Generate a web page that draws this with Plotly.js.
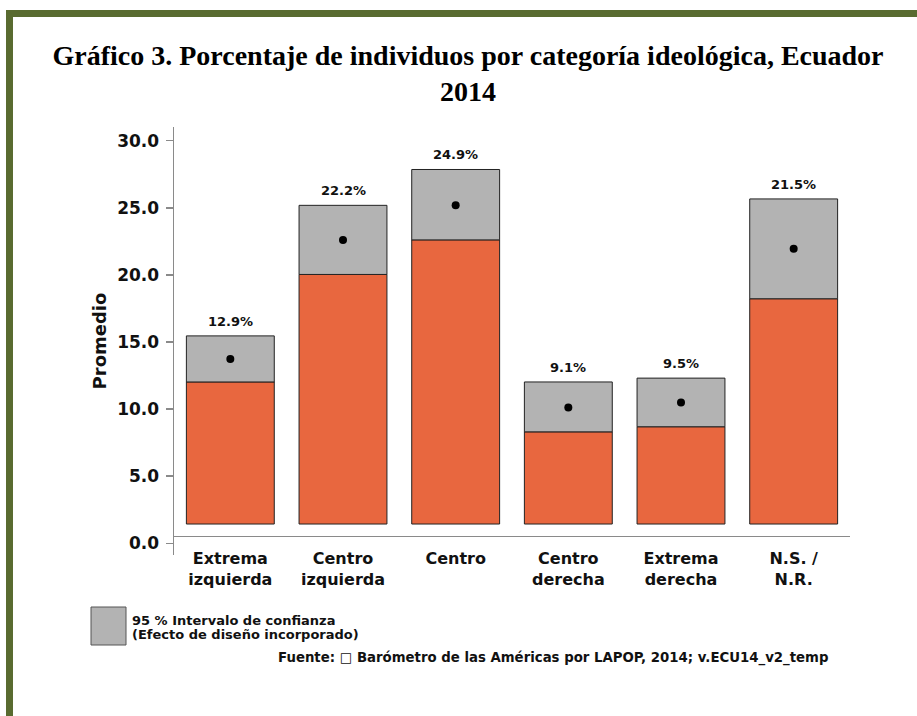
<!DOCTYPE html>
<html>
<head>
<meta charset="utf-8">
<script src="https://cdn.plot.ly/plotly-3.0.1.min.js"></script>
<style>
html,body{margin:0;padding:0;background:#fff;}
#chart{width:917px;height:716px;}
</style>
</head>
<body>
<div id="chart"></div>
<script>
// ---- data ----
const categories = ["Extrema<br>izquierda", "Centro<br>izquierda", "Centro", "Centro<br>derecha", "Extrema<br>derecha", "N.S. /<br>N.R."];
const estimate = [12.9, 22.2, 24.9, 9.1, 9.5, 21.5];
const ciLow  = [11.1, 19.5, 22.2, 7.2, 7.6, 17.6];
const ciHigh = [14.7, 24.9, 27.7, 11.1, 11.4, 25.4];
const valueLabels = estimate.map(v => v.toFixed(1) + "%");
const yTickVals = [0, 5, 10, 15, 20, 25, 30];

const titleText = "Gráfico 3. Porcentaje de individuos por categoría ideológica, Ecuador<br>2014";
const yTitle = "Promedio";
const legendLine1 = "95 % Intervalo de confianza";
const legendLine2 = "(Efecto de diseño incorporado)";
const sourceText = "Fuente: \u25A1 Barómetro de las Américas por LAPOP, 2014; v.ECU14_v2_temp";

// ---- layout geometry ----
const W = 917, H = 716, L = 174, R = 850, T = 127, B = 555;
const px = x => (x - L) / (R - L);
const py = y => (B - y) / (B - T);

const ORANGE = "#E8673F", GREY = "#B3B3B3", EDGE = "#222222", GREEN = "#596B30";
const SANS = "DejaVu Sans, sans-serif";

const traces = [
  {
    type: "bar", x: categories, y: ciLow, base: 0,
    width: 0.78, marker: {color: ORANGE, line: {color: EDGE, width: 1}},
    hoverinfo: "skip", showlegend: false
  },
  {
    type: "bar", x: categories, y: ciHigh.map((h, i) => h - ciLow[i]), base: ciLow,
    width: 0.78, marker: {color: GREY, line: {color: EDGE, width: 1}},
    hoverinfo: "skip", showlegend: false
  },
  {
    type: "scatter", mode: "markers", x: categories, y: estimate,
    marker: {color: "#000", size: 8}, hoverinfo: "skip", showlegend: false
  },
  // empty trace so the printed-scale axis (y2) gets drawn
  {
    type: "scatter", mode: "markers", x: [], y: [], yaxis: "y2",
    hoverinfo: "skip", showlegend: false
  }
];

const annotations = categories.map((c, i) => ({
  x: c, y: ciHigh[i], xref: "x", yref: "y", text: valueLabels[i],
  showarrow: false, yanchor: "bottom", yshift: 5,
  font: {family: SANS, size: 13, color: "#111", weight: "bold"}
}));

annotations.push(
  {xref: "paper", yref: "paper", x: px(130), y: py(620), xanchor: "left", yanchor: "middle",
   text: legendLine1, showarrow: false, font: {family: SANS, size: 13, color: "#111", weight: "bold"}},
  {xref: "paper", yref: "paper", x: px(130), y: py(634.5), xanchor: "left", yanchor: "middle",
   text: legendLine2, showarrow: false, font: {family: SANS, size: 13, color: "#111", weight: "bold"}},
  {xref: "paper", yref: "paper", x: px(276), y: py(658), xanchor: "left", yanchor: "middle",
   text: sourceText, showarrow: false, font: {family: SANS, size: 13.3, color: "#111", weight: "bold"}}
);

const shapes = [
  {type: "rect", xref: "paper", yref: "paper", x0: px(6), x1: px(925), y0: py(10), y1: py(17),
   fillcolor: GREEN, line: {width: 0}, layer: "above"},
  {type: "rect", xref: "paper", yref: "paper", x0: px(6), x1: px(13), y0: py(10), y1: py(725),
   fillcolor: GREEN, line: {width: 0}, layer: "above"},
  {type: "rect", xref: "paper", yref: "paper", x0: px(91), x1: px(126), y0: py(607), y1: py(645),
   fillcolor: GREY, line: {color: "#555", width: 1}}
];

const layout = {
  width: W, height: H,
  margin: {l: L, r: W - R, t: T, b: H - B, pad: 0},
  paper_bgcolor: "#fff", plot_bgcolor: "#fff",
  title: {
    text: titleText, xref: "container", yref: "container",
    x: 468 / W, xanchor: "center", y: 1 - 65 / H, yanchor: "top",
    font: {family: "Liberation Serif, Times New Roman, serif", size: 28, color: "#000", weight: "bold"}
  },
  barmode: "overlay",
  bargap: 0,
  xaxis: {
    type: "category", range: [-0.5, 5.5], anchor: "free", position: (B - 535.7) / (B - T),
    showline: true, linecolor: "#8a8a8a", linewidth: 1.5, ticks: "", showgrid: false, zeroline: false,
    ticklabelstandoff: 8,
    tickfont: {family: SANS, size: 16, color: "#111", weight: "bold"}
  },
  // data scale (bars start at 0 here)
  yaxis: {
    range: [-2.42, 31.02], showticklabels: false, ticks: "", showline: false,
    showgrid: false, zeroline: false
  },
  // printed scale of the reference's vertical axis
  yaxis2: {
    overlaying: "y", side: "left", anchor: "x",
    range: [-0.87, 31.02], tickvals: yTickVals, tickformat: ".1f",
    showline: true, linecolor: "#8a8a8a", linewidth: 1.5,
    ticks: "outside", ticklen: 7, tickwidth: 1.5, tickcolor: "#8a8a8a", ticklabelstandoff: 3,
    showgrid: false, zeroline: false,
    tickfont: {family: SANS, size: 17, color: "#111", weight: "bold"},
    title: {text: yTitle, standoff: 6, font: {family: SANS, size: 18, color: "#111", weight: "bold"}}
  },
  annotations: annotations,
  shapes: shapes,
  showlegend: false
};

Plotly.newPlot("chart", traces, layout, {displayModeBar: false, staticPlot: true});
</script>
</body>
</html>
